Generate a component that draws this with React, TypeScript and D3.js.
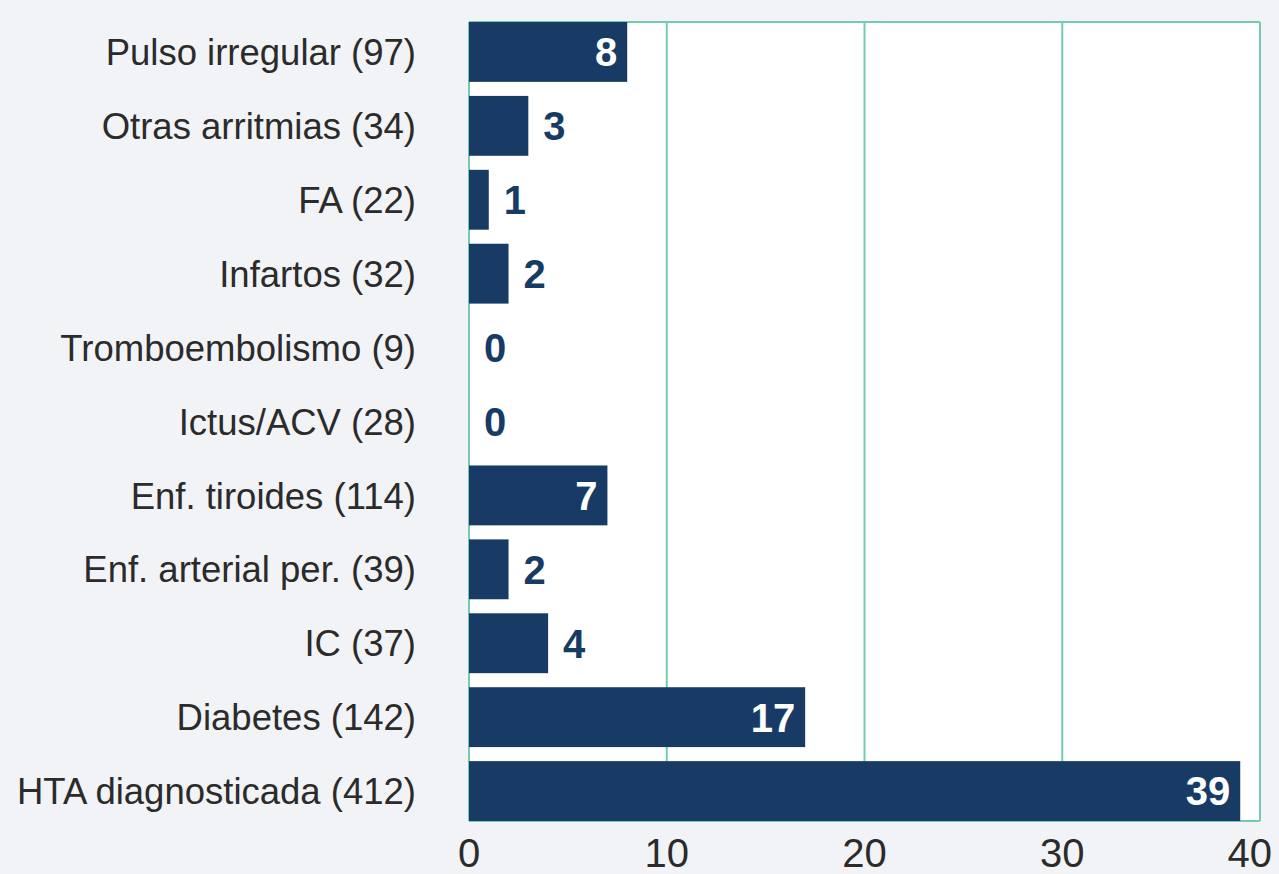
import React from 'react';
import * as d3 from 'd3';

const categories = [
  'Pulso irregular (97)',
  'Otras arritmias (34)',
  'FA (22)',
  'Infartos (32)',
  'Tromboembolismo (9)',
  'Ictus/ACV (28)',
  'Enf. tiroides (114)',
  'Enf. arterial per. (39)',
  'IC (37)',
  'Diabetes (142)',
  'HTA diagnosticada (412)',
];
const values = [8, 3, 1, 2, 0, 0, 7, 2, 4, 17, 39];
const xTicks = [0, 10, 20, 30, 40];

const W = 1279;
const H = 874;
const margin = { top: 22, right: 19, bottom: 53, left: 469 };

const BAR = '#183b66';
const GRID = '#74cbb2';
const BG = '#f2f3f7';
const TEXT = '#2b2b2b';
const FONT = '"Liberation Sans", Arial, sans-serif';

const App: React.FC = () => {
  const x = d3.scaleLinear().domain([0, 40]).range([margin.left, W - margin.right]);
  const y = d3
    .scaleBand<string>()
    .domain(categories)
    .range([margin.top, H - margin.bottom])
    .paddingInner(0.19)
    .paddingOuter(0);

  const x0 = x(0);
  const top = margin.top;
  const bottom = H - margin.bottom;

  return (
    <div>
      <style>{`body{margin:0;background:${BG}}`}</style>
      <svg width={W} height={H} style={{ display: 'block', background: BG }} fontFamily={FONT}>
        <rect x={x0} y={top} width={x(40) - x0} height={bottom - top} fill="#ffffff" />
        {xTicks.map((t) => (
          <line key={t} x1={x(t)} x2={x(t)} y1={top} y2={bottom} stroke={GRID} strokeWidth={2} />
        ))}
        <line x1={x0} x2={x(40)} y1={top} y2={top} stroke={GRID} strokeWidth={2} />
        <line x1={x0} x2={x(40)} y1={bottom} y2={bottom} stroke={GRID} strokeWidth={2} />
        {categories.map((c, i) => {
          const v = values[i];
          const by = y(c)!;
          const bh = y.bandwidth();
          const cy = by + bh / 2;
          const inside = v >= 7;
          return (
            <g key={c}>
              {v > 0 && <rect x={x0} y={by} width={x(v) - x0} height={bh} fill={BAR} />}
              <text
                x={x0 - 53}
                y={cy}
                dy="0.36em"
                textAnchor="end"
                fontSize={36.5}
                fill={TEXT}
              >
                {c}
              </text>
              <text
                x={inside ? x(v) - 10 : x(v) + 15}
                y={cy}
                dy="0.36em"
                textAnchor={inside ? 'end' : 'start'}
                fontSize={40}
                fontWeight="bold"
                fill={inside ? '#ffffff' : BAR}
              >
                {v}
              </text>
            </g>
          );
        })}
        {xTicks.map((t, i) => {
          const last = i === xTicks.length - 1;
          return (
            <text
              key={t}
              x={last ? W - 7 : x(t)}
              y={bottom + 46}
              textAnchor={last ? 'end' : 'middle'}
              fontSize={40}
              fill={TEXT}
            >
              {t}
            </text>
          );
        })}
      </svg>
    </div>
  );
};

export default App;
